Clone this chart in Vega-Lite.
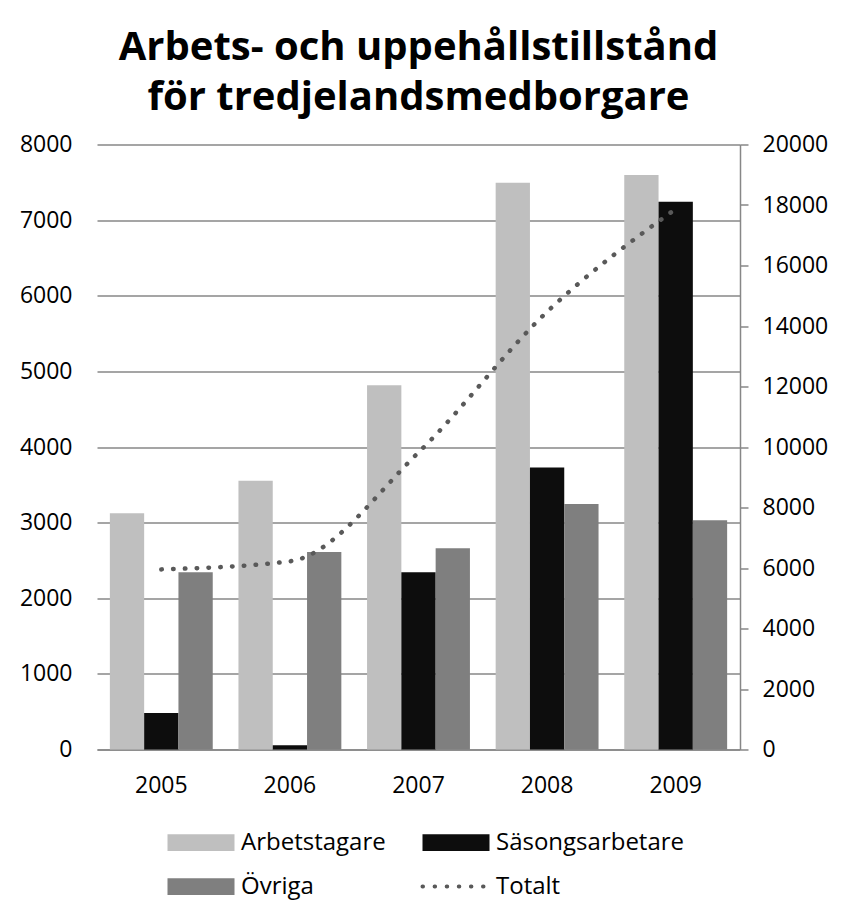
{
  "$schema": "https://vega.github.io/schema/vega-lite/v6.json",
  "width": 643,
  "height": 605,
  "autosize": {"type": "none"},
  "padding": {"left": 97, "top": 144.5, "right": 110, "bottom": 152.5},
  "background": "white",
  "config": {"font": "Open Sans", "view": {"stroke": null}},
  "title": {
    "text": ["Arbets- och uppehållstillstånd", "för tredjelandsmedborgare"],
    "font": "Open Sans",
    "fontSize": 40,
    "fontWeight": "bold",
    "color": "black",
    "anchor": "middle",
    "lineHeight": 50,
    "offset": 16
  },
  "data": {
    "values": [
      {"year": "2005", "series": "Arbetstagare", "value": 3125},
      {"year": "2005", "series": "Säsongsarbetare", "value": 484},
      {"year": "2005", "series": "Övriga", "value": 2345},
      {"year": "2006", "series": "Arbetstagare", "value": 3555},
      {"year": "2006", "series": "Säsongsarbetare", "value": 57},
      {"year": "2006", "series": "Övriga", "value": 2610},
      {"year": "2007", "series": "Arbetstagare", "value": 4815},
      {"year": "2007", "series": "Säsongsarbetare", "value": 2345},
      {"year": "2007", "series": "Övriga", "value": 2660},
      {"year": "2008", "series": "Arbetstagare", "value": 7495},
      {"year": "2008", "series": "Säsongsarbetare", "value": 3730},
      {"year": "2008", "series": "Övriga", "value": 3245},
      {"year": "2009", "series": "Arbetstagare", "value": 7597},
      {"year": "2009", "series": "Säsongsarbetare", "value": 7243},
      {"year": "2009", "series": "Övriga", "value": 3033},
      {"year": "2005", "series": "Totalt", "value": 5954},
      {"year": "2006", "series": "Totalt", "value": 6222},
      {"year": "2007", "series": "Totalt", "value": 9820},
      {"year": "2008", "series": "Totalt", "value": 14470},
      {"year": "2009", "series": "Totalt", "value": 17873}
    ]
  },
  "layer": [
    {
      "transform": [{"filter": "datum.series !== 'Totalt'"}],
      "mark": {"type": "bar"},
      "encoding": {
        "x": {
          "field": "year",
          "type": "nominal",
          "scale": {"paddingInner": 0.2, "paddingOuter": 0.1},
          "axis": {
            "title": null,
            "labelAngle": 0,
            "labelFontSize": 23,
            "labelFont": "Open Sans",
            "labelColor": "black",
            "labelPadding": 25,
            "ticks": false,
            "domainColor": "#878787",
            "domainWidth": 1.5
          }
        },
        "xOffset": {
          "field": "series",
          "type": "nominal",
          "sort": ["Arbetstagare", "Säsongsarbetare", "Övriga"]
        },
        "y": {
          "field": "value",
          "type": "quantitative",
          "scale": {"domain": [0, 8000]},
          "axis": {
            "title": null,
            "format": "d",
            "values": [0, 1000, 2000, 3000, 4000, 5000, 6000, 7000, 8000],
            "grid": true,
            "gridColor": "#878787",
            "gridWidth": 1.5,
            "domain": false,
            "ticks": false,
            "labelFontSize": 23,
            "labelFont": "Open Sans",
            "labelColor": "black",
            "labelPadding": 25
          }
        },
        "color": {
          "field": "series",
          "type": "nominal",
          "scale": {
            "domain": ["Arbetstagare", "Säsongsarbetare", "Övriga", "Totalt"],
            "range": ["#BFBFBF", "#0D0D0D", "#7F7F7F", "#595959"]
          },
          "legend": {
            "orient": "none",
            "legendX": 92,
            "legendY": 686,
            "direction": "horizontal",
            "columns": 2,
            "title": null,
            "labelFontSize": 24,
            "labelFont": "Open Sans",
            "labelColor": "black",
            "labelLimit": 400,
            "labelOffset": 28,
            "columnPadding": 28,
            "rowPadding": 20,
            "symbolSize": 4489,
            "symbolType": "M-1,-0.25H1V0.25H-1Z",
            "encode": {
              "symbols": {
                "update": {
                  "shape": {"signal": "datum.value === 'Totalt' ? 'M-1,0H1' : 'M-1,-0.25H1V0.25H-1Z'"},
                  "fill": {"signal": "datum.value === 'Totalt' ? 'transparent' : scale('color', datum.value)"},
                  "stroke": {"signal": "datum.value === 'Totalt' ? '#595959' : 'transparent'"},
                  "strokeWidth": {"signal": "datum.value === 'Totalt' ? 4 : 0"},
                  "strokeDash": {"signal": "datum.value === 'Totalt' ? [0.5, 11.6] : []"},
                  "strokeCap": {"value": "round"},
                  "opacity": {"value": 1}
                }
              }
            }
          }
        }
      }
    },
    {
      "transform": [{"filter": "datum.series === 'Totalt'"}],
      "mark": {
        "type": "line",
        "interpolate": "monotone",
        "strokeWidth": 4.5,
        "strokeDash": [0.5, 11.3],
        "strokeCap": "round"
      },
      "encoding": {
        "x": {"field": "year", "type": "nominal"},
        "y": {
          "field": "value",
          "type": "quantitative",
          "scale": {"domain": [0, 20000]},
          "axis": {
            "orient": "right",
            "title": null,
            "format": "d",
            "values": [0, 2000, 4000, 6000, 8000, 10000, 12000, 14000, 16000, 18000, 20000],
            "grid": false,
            "domain": true,
            "domainColor": "#878787",
            "domainWidth": 1.5,
            "ticks": true,
            "tickSize": 8,
            "tickColor": "#878787",
            "tickWidth": 1.5,
            "labelFontSize": 23,
            "labelFont": "Open Sans",
            "labelColor": "black",
            "labelPadding": 14
          }
        },
        "color": {"field": "series", "type": "nominal"}
      }
    }
  ],
  "resolve": {"scale": {"y": "independent"}}
}
